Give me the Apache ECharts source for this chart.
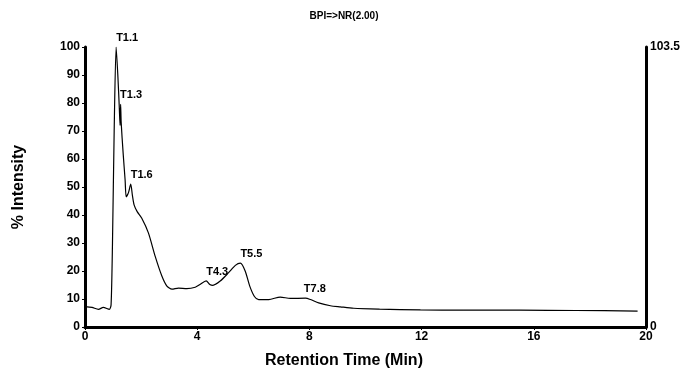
<!DOCTYPE html>
<html>
<head>
<meta charset="utf-8">
<script src="https://cdn.jsdelivr.net/npm/echarts@6/dist/echarts.min.js"></script>
<style>html,body{margin:0;padding:0;background:#fff}#c{width:688px;height:374px}</style>
</head>
<body>
<div id="c"></div>
<script>
var times = [0, 0.25, 0.48, 0.65, 0.87, 0.93, 0.98, 1.04, 1.11, 1.17, 1.22, 1.25, 1.27, 1.29, 1.36, 1.43, 1.47, 1.55, 1.63, 1.69, 1.75, 1.86, 2.02, 2.26, 2.5, 2.74, 2.92, 3.1, 3.33, 3.63, 3.93, 4.1, 4.32, 4.45, 4.56, 4.82, 5.12, 5.36, 5.54, 5.71, 5.87, 6.04, 6.19, 6.55, 6.96, 7.32, 7.86, 8.04, 8.33, 8.75, 9.1, 9.58, 10.5, 11.96, 13.5, 15.5, 17.5, 19.7];
var intensity = [7.3, 7.0, 6.3, 7.0, 6.3, 8, 30, 70, 100, 90, 79, 72, 79.5, 73, 62, 52.5, 46.5, 48, 51, 47, 43.6, 41.2, 38.9, 33.6, 25.3, 18.2, 14.6, 13.5, 13.9, 13.7, 14.2, 15.2, 16.5, 15.2, 14.9, 16.4, 19.4, 22.0, 22.8, 20, 14.7, 10.9, 9.8, 9.8, 10.7, 10.2, 10.3, 9.8, 8.6, 7.6, 7.2, 6.7, 6.4, 6.1, 6.0, 6.0, 5.9, 5.7];
var peakLabels = ['T1.1', 'T1.3', 'T1.6', 'T4.3', 'T5.5', 'T7.8'];
var peakTimes = [1.11, 1.25, 1.63, 4.32, 5.54, 7.8];
var peakValues = [100, 79.5, 51, 16.5, 22.8, 10.3];
var xTicks = [0, 4, 8, 12, 16, 20];
var yTicks = [0, 10, 20, 30, 40, 50, 60, 70, 80, 90, 100];
var rightMax = 103.5;

var F = '"Liberation Sans", Arial, sans-serif';
var data = times.map(function (t, i) { return [t, intensity[i]]; });
var marks = peakLabels.map(function (l, i) {
  return { coord: [peakTimes[i], peakValues[i]], label: { formatter: l } };
});

var chart = echarts.init(document.getElementById('c'), null, { renderer: 'canvas' });
chart.setOption({
  animation: false,
  backgroundColor: '#fff',
  title: {
    text: 'BPI=>NR(2.00)', left: 'center', top: 6,
    textStyle: { fontFamily: F, fontSize: 10, fontWeight: 'bold', color: '#000' }
  },
  grid: { left: 85, right: 42, top: 47, bottom: 45, containLabel: false },
  xAxis: {
    type: 'value', min: 0, max: 20, interval: 4,
    name: 'Retention Time (Min)', nameLocation: 'middle', nameGap: 26,
    nameTextStyle: { fontFamily: F, fontSize: 16, fontWeight: 'bold', color: '#000', padding: [0, 43, 0, 0] },
    axisLine: { lineStyle: { color: '#000', width: 3 } },
    axisTick: { show: true, length: 3, lineStyle: { color: '#000', width: 1 } },
    axisLabel: { fontFamily: F, fontSize: 12, fontWeight: 'bold', color: '#000', margin: 4,
      formatter: function (v) { return xTicks.indexOf(v) >= 0 ? String(v) : ''; } },
    splitLine: { show: false }
  },
  yAxis: [{
    type: 'value', min: 0, max: 100, interval: 10, position: 'left',
    name: '% Intensity', nameLocation: 'middle', nameGap: 58,
    nameTextStyle: { fontFamily: F, fontSize: 16, fontWeight: 'bold', color: '#000' },
    axisLine: { show: true, lineStyle: { color: '#000', width: 3 } },
    axisTick: { show: true, length: 3, lineStyle: { color: '#000', width: 1 } },
    axisLabel: { fontFamily: F, fontSize: 12, fontWeight: 'bold', color: '#000', margin: 5,
      formatter: function (v) { return yTicks.indexOf(v) >= 0 ? String(v) : ''; } },
    splitLine: { show: false }
  }, {
    type: 'value', min: 0, max: rightMax, interval: rightMax, position: 'right',
    axisLine: { show: true, lineStyle: { color: '#000', width: 3 } },
    axisTick: { show: false },
    axisLabel: { fontFamily: F, fontSize: 12, fontWeight: 'bold', color: '#000', margin: 4,
      padding: [0, 0, 5, 0],
      formatter: function (v) { return v === 0 ? '0' : String(rightMax); } },
    splitLine: { show: false }
  }],
  series: [{
    type: 'line', data: data, yAxisIndex: 0, showSymbol: false, smooth: 0.25,
    lineStyle: { color: '#000', width: 1.2 },
    markPoint: {
      symbol: 'rect', symbolSize: 1,
      itemStyle: { color: 'rgba(0,0,0,0)' },
      label: { show: true, position: 'top', distance: 3, align: 'left',
        fontFamily: F, fontSize: 11, fontWeight: 'bold', color: '#000' },
      data: marks
    }
  }]
});
</script>
</body>
</html>
